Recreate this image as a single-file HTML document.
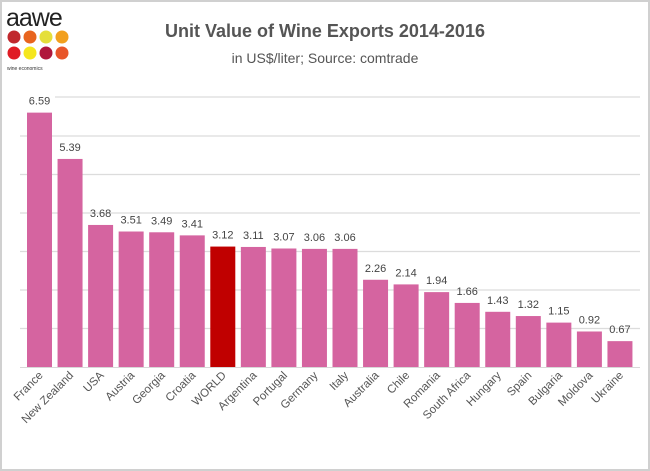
<!DOCTYPE html>
<html><head><meta charset="utf-8"><style>
body{margin:0;background:#fff}
svg{display:block}
text{font-family:"Liberation Sans",sans-serif}
</style></head><body>
<svg width="650" height="471" viewBox="0 0 650 471">
<rect x="1" y="1" width="648" height="469" fill="#fff" stroke="#d0d0d0" stroke-width="2"/>
<text x="6" y="26" font-size="25" fill="#222" letter-spacing="-1">aawe</text>
<g>
<circle cx="14" cy="37" r="6.5" fill="#c0282d"/><circle cx="30" cy="37" r="6.5" fill="#e8641e"/><circle cx="46" cy="37" r="6.5" fill="#e5df3a"/><circle cx="62" cy="37" r="6.5" fill="#f2a01e"/>
<circle cx="14" cy="53" r="6.5" fill="#e01c24"/><circle cx="30" cy="53" r="6.5" fill="#f5e61e"/><circle cx="46" cy="53" r="6.5" fill="#b0183c"/><circle cx="62" cy="53" r="6.5" fill="#e8562a"/>
</g>
<text x="7" y="70" font-size="5" fill="#333">wine economics</text>
<text x="325" y="37" font-size="18" font-weight="bold" fill="#555" text-anchor="middle">Unit Value of Wine Exports 2014-2016</text>
<text x="325" y="63" font-size="14" fill="#555" text-anchor="middle">in US$/liter; Source: comtrade</text>
<g stroke="#dcdcdc" stroke-width="1.2">
<line x1="55" x2="640" y1="97" y2="97"/><line x1="20" x2="640" y1="136" y2="136"/><line x1="20" x2="640" y1="174.5" y2="174.5"/><line x1="20" x2="640" y1="213" y2="213"/><line x1="20" x2="640" y1="251.5" y2="251.5"/><line x1="20" x2="640" y1="290" y2="290"/><line x1="20" x2="640" y1="328.5" y2="328.5"/>
</g>
<line x1="20" x2="640" y1="367.5" y2="367.5" stroke="#d8d8d8"/>
<g id="bars"></g>
</svg>
<script>
var d=[["France",6.59],["New Zealand",5.39],["USA",3.68],["Austria",3.51],["Georgia",3.49],["Croatia",3.41],["WORLD",3.12],["Argentina",3.11],["Portugal",3.07],["Germany",3.06],["Italy",3.06],["Australia",2.26],["Chile",2.14],["Romania",1.94],["South Africa",1.66],["Hungary",1.43],["Spain",1.32],["Bulgaria",1.15],["Moldova",0.92],["Ukraine",0.67]];
var g=document.getElementById("bars"),s="";
d.forEach(function(e,i){var x=27+i*30.55,h=e[1]*38.6,y=367-h,c=x+12.5;
s+='<rect x="'+x+'" y="'+y+'" width="25" height="'+h+'" fill="'+(e[0]=="WORLD"?"#c00000":"#d564a0")+'"/>';
s+='<text x="'+c+'" y="'+(y-8)+'" font-size="11" fill="#444" text-anchor="middle">'+e[1].toFixed(2)+'</text>';
s+='<text transform="translate('+(c+4)+',376) rotate(-45)" font-size="11.5" fill="#555" text-anchor="end">'+e[0]+'</text>';});
g.innerHTML=s;
</script>
</body></html>
